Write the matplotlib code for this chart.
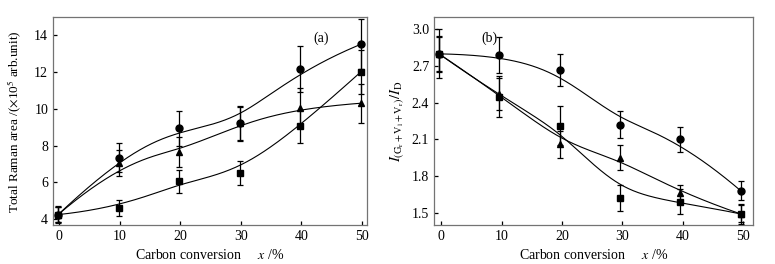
import numpy as np
import matplotlib.pyplot as plt

plt.rcParams["font.family"] = ["Liberation Serif", "DejaVu Serif"]
plt.rcParams["mathtext.fontset"] = "stix"

conversion = np.array([0, 10, 20, 30, 40, 50])

# (a) total Raman area, x10^5 arb. unit
area_circle = [4.25, 7.35, 8.95, 9.2, 12.15, 13.5]
area_circle_err = [0.4, 0.8, 0.95, 0.95, 1.25, 1.35]
area_triangle = [4.25, 7.05, 7.65, 9.2, 10.05, 10.3]
area_triangle_err = [0.4, 0.7, 0.8, 0.9, 1.05, 1.05]
area_square = [4.25, 4.6, 6.05, 6.5, 9.05, 12.0]
area_square_err = [0.45, 0.45, 0.6, 0.65, 0.9, 1.2]

# (b) I(Gr+Vl+Vr)/ID
ratio_circle = [2.80, 2.79, 2.67, 2.22, 2.10, 1.68]
ratio_circle_err = [0.2, 0.15, 0.13, 0.11, 0.1, 0.08]
ratio_triangle = [2.80, 2.47, 2.06, 1.95, 1.66, 1.49]
ratio_triangle_err = [0.14, 0.13, 0.11, 0.1, 0.07, 0.07]
ratio_square = [2.80, 2.45, 2.21, 1.62, 1.59, 1.49]
ratio_square_err = [0.15, 0.17, 0.16, 0.11, 0.1, 0.08]

x_ticks = [0, 10, 20, 30, 40, 50]


def bspline(px, py, n=300, k=3):
    # clamped uniform B-spline using the data points as control points
    m = len(px)
    inner = np.arange(1, m - k)
    knots = np.concatenate([np.zeros(k + 1), inner, np.full(k + 1, m - k)]).astype(float)
    t = np.linspace(0, m - k, n)
    t[-1] -= 1e-9
    B = np.zeros((n, len(knots) - 1))
    for i in range(len(knots) - 1):
        B[:, i] = (knots[i] <= t) & (t < knots[i + 1])
    for d in range(1, k + 1):
        Bn = np.zeros((n, len(knots) - 1 - d))
        for i in range(len(knots) - 1 - d):
            a = knots[i + d] - knots[i]
            b = knots[i + d + 1] - knots[i + 1]
            left = (t - knots[i]) / a * B[:, i] if a > 0 else 0
            right = (knots[i + d + 1] - t) / b * B[:, i + 1] if b > 0 else 0
            Bn[:, i] = left + right
        B = Bn
    return B @ np.asarray(px, float), B @ np.asarray(py, float)


def draw_series(ax, x, y, err, marker, ms):
    ax.errorbar(x, y, yerr=err, fmt=marker, color="k", ms=ms, capsize=2.5,
                elinewidth=0.9, capthick=0.9, zorder=3)
    xs, ys = bspline(x, y)
    ax.plot(xs, ys, color="k", lw=0.8, zorder=2)


def style_axes(ax):
    for s in ax.spines.values():
        s.set_color("0.45")
        s.set_linewidth(0.9)
    ax.tick_params(direction="in", length=3, width=0.9, color="k",
                   labelsize=10, top=False, right=False)
    ax.set_xticks(x_ticks)
    ax.set_xlabel("Carbon conversion     $x$ /%", fontsize=10, labelpad=4)


fig = plt.figure(figsize=(7.75, 2.64), dpi=100)
ax1 = fig.add_axes([0.0684, 0.148, 0.405, 0.786])
ax2 = fig.add_axes([0.560, 0.148, 0.411, 0.786])

xa = conversion - 0.2
draw_series(ax1, xa, area_circle, area_circle_err, "o", 5)
draw_series(ax1, xa, area_triangle, area_triangle_err, "^", 5)
draw_series(ax1, xa, area_square, area_square_err, "s", 5)
ax1.set_xlim(-1.04, 50.8)
ax1.set_ylim(3.69, 14.96)
ax1.set_yticks([4, 6, 8, 10, 12, 14])
ax1.set_ylabel("Total Raman area /($\\times$10$^5$ arb.unit)", fontsize=9.5, labelpad=7)
ax1.text(0.83, 0.93, "(a)", transform=ax1.transAxes, fontsize=10, va="top")
style_axes(ax1)

xb = conversion - 0.4
draw_series(ax2, xb, ratio_circle, ratio_circle_err, "o", 5)
draw_series(ax2, xb, ratio_triangle, ratio_triangle_err, "^", 5)
draw_series(ax2, xb, ratio_square, ratio_square_err, "s", 5)
ax2.set_xlim(-1.23, 51.56)
ax2.set_ylim(1.40, 3.098)
ax2.set_yticks([1.5, 1.8, 2.1, 2.4, 2.7, 3.0])
ax2.set_yticklabels(["1.5", "1.8", "2.1", "2.4", "2.7", "3.0"])
ax2.set_ylabel("$I_{(\\mathrm{G_r+V_l+V_r})}/I_\\mathrm{D}$", fontsize=10.5, labelpad=4)
ax2.text(0.15, 0.93, "(b)", transform=ax2.transAxes, fontsize=10, va="top")
style_axes(ax2)

fig.savefig("out.png", dpi=100)
